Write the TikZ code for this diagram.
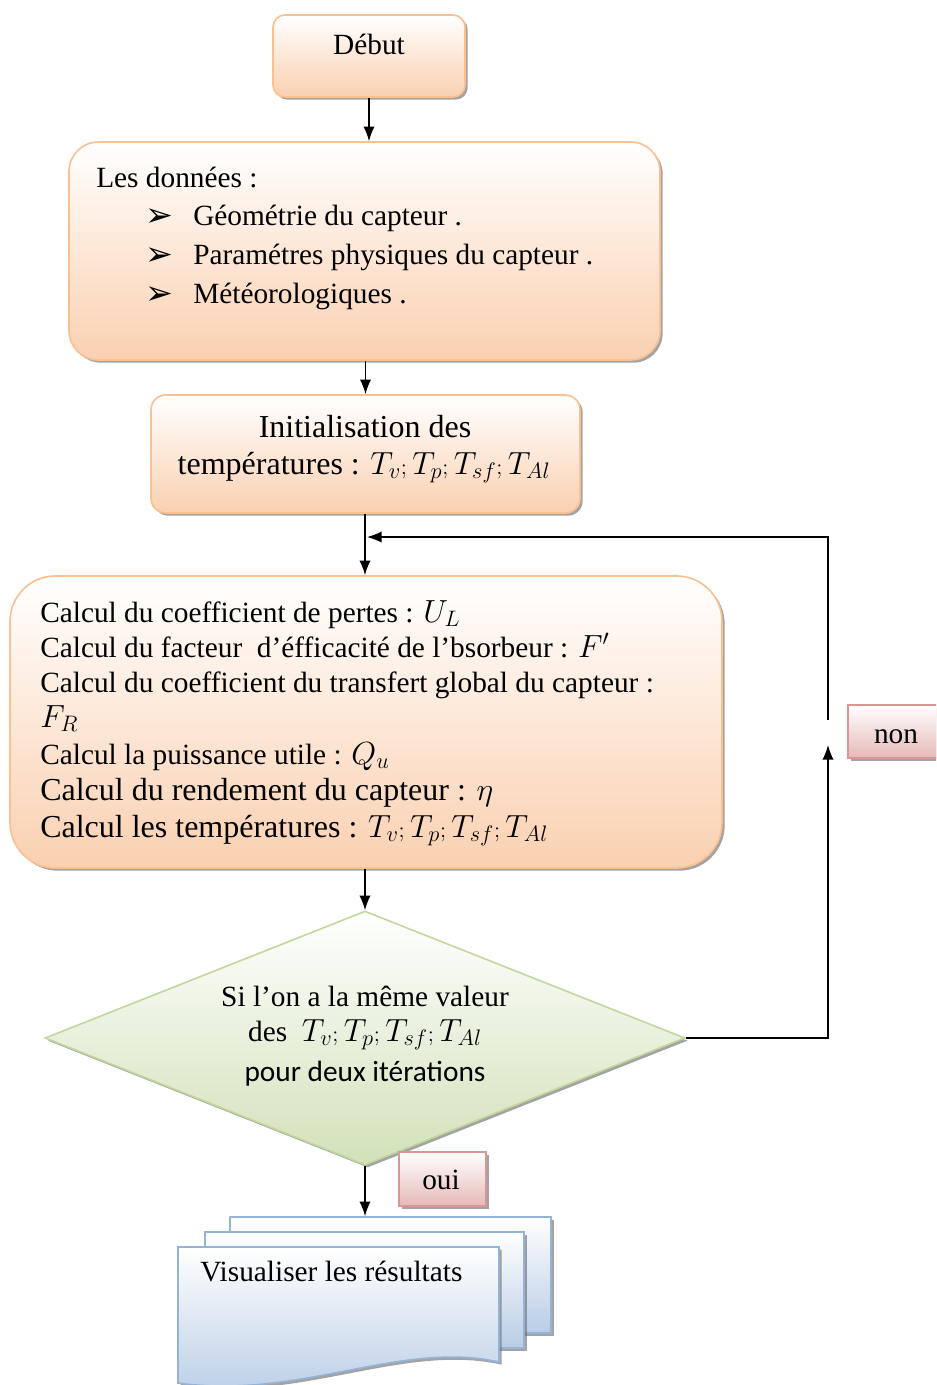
\RequirePackage{fix-cm}
\documentclass[tikz,border=0pt]{standalone}
\usepackage{fontspec}
\setmainfont{Liberation Serif}
\newfontfamily\calib{Carlito}
\newfontfamily\dejavu{DejaVu Sans}
\usetikzlibrary{shapes.geometric,shadows,arrows.meta}
\definecolor{orB}{RGB}{250,192,144}
\definecolor{orF}{RGB}{250,208,176}
\definecolor{grB}{RGB}{195,214,155}
\definecolor{grF}{RGB}{210,225,185}
\definecolor{pkB}{RGB}{217,150,148}
\definecolor{pkF}{RGB}{230,185,184}
\definecolor{blB}{RGB}{149,179,215}
\definecolor{blF}{RGB}{185,205,229}
\tikzset{
  shad/.style={drop shadow={shadow xshift=2pt,shadow yshift=-2pt,fill=black!60,opacity=.6}},
  obox/.style={draw=orB,line width=1.2pt,top color=white,bottom color=orF,shad,inner sep=0pt},
  gdia/.style={shape=diamond,draw=grB,line width=1.2pt,top color=white,bottom color=grF,shad,inner sep=0pt},
  plab/.style={draw=pkB,line width=1.2pt,top color=white,bottom color=pkF,shad,inner sep=0pt},
  sheet/.style={draw=blB,line width=1.2pt,top color=white,bottom color=blF,shad,inner sep=0pt},
  txt/.style={inner sep=0pt,font=\fontsize{22}{26}\selectfont},
  big/.style={inner sep=0pt,font=\fontsize{24}{28}\selectfont},
  conn/.style={line width=1.1pt,-{Latex[length=11pt,width=8.5pt]}},
}
\newcommand{\semi}{{\scriptstyle;}\,}
\newcommand{\bul}{{\dejavu\fontsize{25}{26}\selectfont ➢}}
\newcommand{\temps}{{\fontsize{24}{26}\selectfont$T_v\semi T_p\semi T_{sf}\semi T_{Al}$}}
\begin{document}
\begin{tikzpicture}[x=0.75pt,y=-0.75pt]
\useasboundingbox (0,0) rectangle (936,1385);
\clip (0,0) rectangle (936,1385);
\fill[white] (0,0) rectangle (936,1385);

% boxes
\node[obox,rounded corners=9pt,minimum width=144pt,minimum height=61.5pt] (debut) at (369,56) {};
\node[obox,rounded corners=22pt,minimum width=443.25pt,minimum height=163.5pt] (don) at (364.5,251) {};
\node[obox,rounded corners=11pt,minimum width=321.75pt,minimum height=88.5pt] (init) at (365.5,454) {};
\node[obox,rounded corners=34pt,minimum width=534pt,minimum height=219pt] (calc) at (366,722) {};
\node[gdia,minimum width=480pt,minimum height=190.5pt] (dia) at (365,1038) {};
\node[plab,minimum width=65.25pt,minimum height=40.5pt] (oui) at (442.5,1179) {};
\node[plab,minimum width=72pt,minimum height=39.75pt] (non) at (896,731.5) {};

% multi-document
\node[sheet,minimum width=240.75pt,minimum height=87pt] (back) at (390.5,1275) {};
\node[sheet,minimum width=239.25pt,minimum height=87pt] (mid) at (364.5,1290) {};
\path[sheet] (178,1247) -- (499,1247) -- (499,1362)
  .. controls (400,1340) and (300,1400) .. (178,1383) -- cycle;

% texts
\node[txt,anchor=base] (t0) at (369,54) {Début};

\node[txt,anchor=base west] (d0) at (96,187) {Les données :};
\node[txt,anchor=base west] (b1) at (145,226) {\bul};
\node[txt,anchor=base west] (d1) at (193,225) {Géométrie du capteur .};
\node[txt,anchor=base west] (b2) at (145,265) {\bul};
\node[txt,anchor=base west] (d2) at (193,264) {Paramétres physiques du capteur .};
\node[txt,anchor=base west] (b3) at (145,304) {\bul};
\node[txt,anchor=base west] (d3) at (193,303) {Météorologiques .};

\node[big,anchor=base] (i1) at (365,437) {Initialisation des};
\node[big,anchor=base] (i2) at (364,474) {températures : \temps};

\node[txt,anchor=base west] (c1) at (40,622) {Calcul du coefficient de pertes : {\fontsize{24}{26}\selectfont$U_L$}};
\node[txt,anchor=base west] (c2) at (40,657) {Calcul du facteur\ \ d’éfficacité de l’bsorbeur : {\fontsize{24}{26}\selectfont$F'$}};
\node[txt,anchor=base west] (c3) at (40,692) {Calcul du coefficient du transfert global du capteur :};
\node[txt,anchor=base west] (c4) at (40,727) {{\fontsize{24}{26}\selectfont$F_R$}};
\node[txt,anchor=base west] (c5) at (40,764) {Calcul la puissance utile : {\fontsize{24}{26}\selectfont$Q_u$}};
\node[big,anchor=base west] (c6) at (40,800) {Calcul du rendement du capteur : $\eta$};
\node[big,anchor=base west] (c7) at (40,837) {Calcul les températures : \temps};

\node[txt,anchor=base] (s1) at (365,1006) {Si l’on a la même valeur};
\node[txt,anchor=base] (s2) at (365,1041) {des\ \ \temps};
\node[txt,anchor=base] (s3) at (365,1081) {\calib pour deux itérations};

\node[txt,anchor=base] (ouit) at (441,1189) {oui};
\node[txt,anchor=base] (nont) at (896,743) {non};
\node[txt,anchor=base west] (vis) at (200,1281) {Visualiser les résultats};

% connectors
\coordinate (nonin) at (828,745);
\coordinate (nonout) at (828,720);
\coordinate (join) at (367,537);
\draw[conn] (debut.south) -- (debut.south |- don.north);
\draw[conn] (don.south -| init.north) -- (init.north);
\draw[conn] (init.south -| 365,0) -- (calc.north -| 365,0);
\draw[conn] (calc.south -| dia.north) -- (dia.north);
\draw[conn] (dia.south) -- (dia.south |- back.north);
\draw[conn] (dia.east) -| (nonin);
\draw[conn] (nonout) |- (join);
\end{tikzpicture}
\end{document}
